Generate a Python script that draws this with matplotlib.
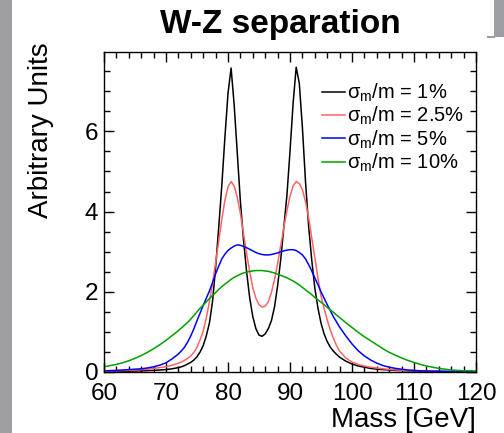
import numpy as np
import matplotlib
matplotlib.use("Agg")
import matplotlib.pyplot as plt
from matplotlib.patches import Rectangle
from matplotlib.lines import Line2D
from matplotlib.ticker import MultipleLocator

plt.rcParams['font.family'] = ['Liberation Sans', 'DejaVu Sans']
plt.rcParams['mathtext.fontset'] = 'custom'
plt.rcParams['mathtext.rm'] = 'Liberation Sans'
plt.rcParams['mathtext.it'] = 'Liberation Sans'

# mass grid: 1 GeV in the tails, 0.5 GeV around the W and Z peaks
mass = np.r_[60:72:1.0, 72:98:0.5, 98:121:1.0]

res_1 = [
    0.01, 0.012, 0.015, 0.018, 0.02, 0.025, 0.03, 0.035, 0.04, 0.05, 0.06, 0.08,
    0.11, 0.13, 0.16, 0.20, 0.24, 0.30, 0.38, 0.50, 0.66, 0.90, 1.22, 1.75,
    2.60, 3.60, 4.65, 5.85, 6.95, 7.58, 6.65, 5.45, 4.25, 3.30, 2.50, 1.85,
    1.38, 1.08, 0.92, 0.89, 0.95, 1.08, 1.28, 1.62, 2.15, 2.80, 3.60, 4.40,
    5.50, 6.70, 7.60, 7.20, 6.10, 4.75, 3.65, 2.80, 2.10, 1.60, 1.22, 0.95,
    0.76, 0.62, 0.52, 0.44,
    0.37, 0.27, 0.20, 0.15, 0.12, 0.09, 0.07, 0.06, 0.05, 0.04, 0.035, 0.03,
    0.025, 0.02, 0.02, 0.015, 0.015, 0.01, 0.01, 0.01, 0.01, 0.01, 0.01,
]
res_2p5 = [
    0.02, 0.025, 0.03, 0.035, 0.04, 0.05, 0.06, 0.07, 0.09, 0.11, 0.13, 0.17,
    0.22, 0.25, 0.29, 0.34, 0.40, 0.49, 0.62, 0.80, 1.02, 1.35, 1.75, 2.20,
    2.72, 3.25, 3.80, 4.28, 4.62, 4.75, 4.64, 4.35, 3.95, 3.45, 2.95, 2.50,
    2.10, 1.84, 1.68, 1.62, 1.64, 1.75, 1.98, 2.30, 2.70, 3.15, 3.60, 4.02,
    4.38, 4.64, 4.75, 4.70, 4.55, 4.25, 3.85, 3.35, 2.85, 2.35, 1.90, 1.58,
    1.30, 1.05, 0.84, 0.66,
    0.52, 0.35, 0.25, 0.19, 0.15, 0.12, 0.10, 0.08, 0.065, 0.055, 0.045, 0.04,
    0.035, 0.03, 0.025, 0.02, 0.02, 0.015, 0.015, 0.01, 0.01, 0.01, 0.01,
]
res_5 = [
    0.03, 0.035, 0.04, 0.05, 0.06, 0.07, 0.08, 0.10, 0.13, 0.17, 0.23, 0.33,
    0.45, 0.53, 0.62, 0.75, 0.90, 1.08, 1.28, 1.47, 1.66, 1.84, 2.02, 2.23,
    2.45, 2.64, 2.82, 2.94, 3.03, 3.09, 3.14, 3.17, 3.16, 3.13, 3.10, 3.06,
    3.02, 2.98, 2.95, 2.93, 2.92, 2.92, 2.93, 2.95, 2.97, 3.00, 3.02, 3.04,
    3.05, 3.05, 3.03, 2.98, 2.92, 2.82, 2.68, 2.52, 2.35, 2.18, 2.00, 1.84,
    1.68, 1.53, 1.38, 1.25,
    1.12, 0.90, 0.70, 0.53, 0.40, 0.30, 0.22, 0.16, 0.12, 0.09, 0.07, 0.05,
    0.04, 0.03, 0.025, 0.02, 0.02, 0.015, 0.01, 0.01, 0.01, 0.01, 0.01,
]
res_10 = [
    0.13, 0.16, 0.19, 0.23, 0.28, 0.34, 0.41, 0.49, 0.58, 0.68, 0.79, 0.91,
    1.03, 1.10, 1.17, 1.24, 1.32, 1.41, 1.50, 1.59, 1.67, 1.75, 1.83, 1.91,
    1.98, 2.06, 2.13, 2.19, 2.25, 2.31, 2.36, 2.40, 2.44, 2.47, 2.49, 2.51,
    2.52, 2.53, 2.53, 2.53, 2.52, 2.51, 2.49, 2.47, 2.44, 2.41, 2.38, 2.35,
    2.31, 2.27, 2.22, 2.17, 2.11, 2.05, 1.99, 1.93, 1.86, 1.80, 1.74, 1.68,
    1.61, 1.55, 1.49, 1.42,
    1.36, 1.23, 1.11, 0.99, 0.88, 0.78, 0.68, 0.58, 0.49, 0.42, 0.35, 0.29,
    0.24, 0.19, 0.15, 0.12, 0.09, 0.07, 0.05, 0.04, 0.03, 0.03, 0.02,
]

series = [
    (res_1, '#000000', r'$\sigma_{m}$/m = 1%'),
    (res_2p5, '#ff6464', r'$\sigma_{m}$/m = 2.5%'),
    (res_5, '#0000ff', r'$\sigma_{m}$/m = 5%'),
    (res_10, '#00a000', r'$\sigma_{m}$/m = 10%'),
]

W, H = 504, 433
fig = plt.figure(figsize=(W / 100, H / 100), dpi=100)
ax = fig.add_axes([104 / W, 1 - 372 / H, 372 / W, 320 / H])

for values, color, label in series:
    ax.plot(mass, values, color=color, lw=1.1, label=label)

ax.set_xlim(60, 120)
ax.set_ylim(0, 7.98)
ax.xaxis.set_major_locator(MultipleLocator(10))
ax.xaxis.set_minor_locator(MultipleLocator(2))
ax.yaxis.set_major_locator(MultipleLocator(2))
ax.yaxis.set_minor_locator(MultipleLocator(0.5))
ax.tick_params(which='both', direction='in', top=True, right=True,
               width=1.0, labelsize=17.5)
ax.tick_params(which='major', length=7.5)
ax.tick_params(which='minor', length=4.5)
ax.tick_params(axis='y', pad=4)
ax.tick_params(axis='x', pad=8)
for s in ax.spines.values():
    s.set_linewidth(1.0)

ax.legend(loc='upper left', bbox_to_anchor=(0.585, 0.907), frameon=False,
          fontsize=14.5, handlelength=1.15, handletextpad=0.12,
          labelspacing=0.05, borderpad=0, borderaxespad=0)

fig.text(280 / W, 1 - 24 / H, 'W-Z separation', ha='center', va='center',
         fontsize=24, fontweight='bold')
fig.text(41 / W, 1 - 42 / H, 'Arbitrary Units', rotation=90,
         ha='center', va='top', fontsize=20)
fig.text(476 / W, 1 - 420 / H, 'Mass [GeV]', ha='right', va='center',
         fontsize=20)

# grey page edges around the panel
grey = '#9e9fa3'
fig.patches.append(Rectangle((0, 0), 12 / W, 1, transform=fig.transFigure,
                             facecolor=grey, edgecolor='none'))
fig.patches.append(Rectangle((494 / W, 1 - 37 / H), 10 / W, 37 / H,
                             transform=fig.transFigure,
                             facecolor=grey, edgecolor='none'))
fig.lines.append(Line2D([488 / W, 494 / W], [1 - 36.5 / H, 1 - 36.5 / H],
                        transform=fig.transFigure, color=grey, lw=1.5))

fig.savefig('out.png', dpi=100)
